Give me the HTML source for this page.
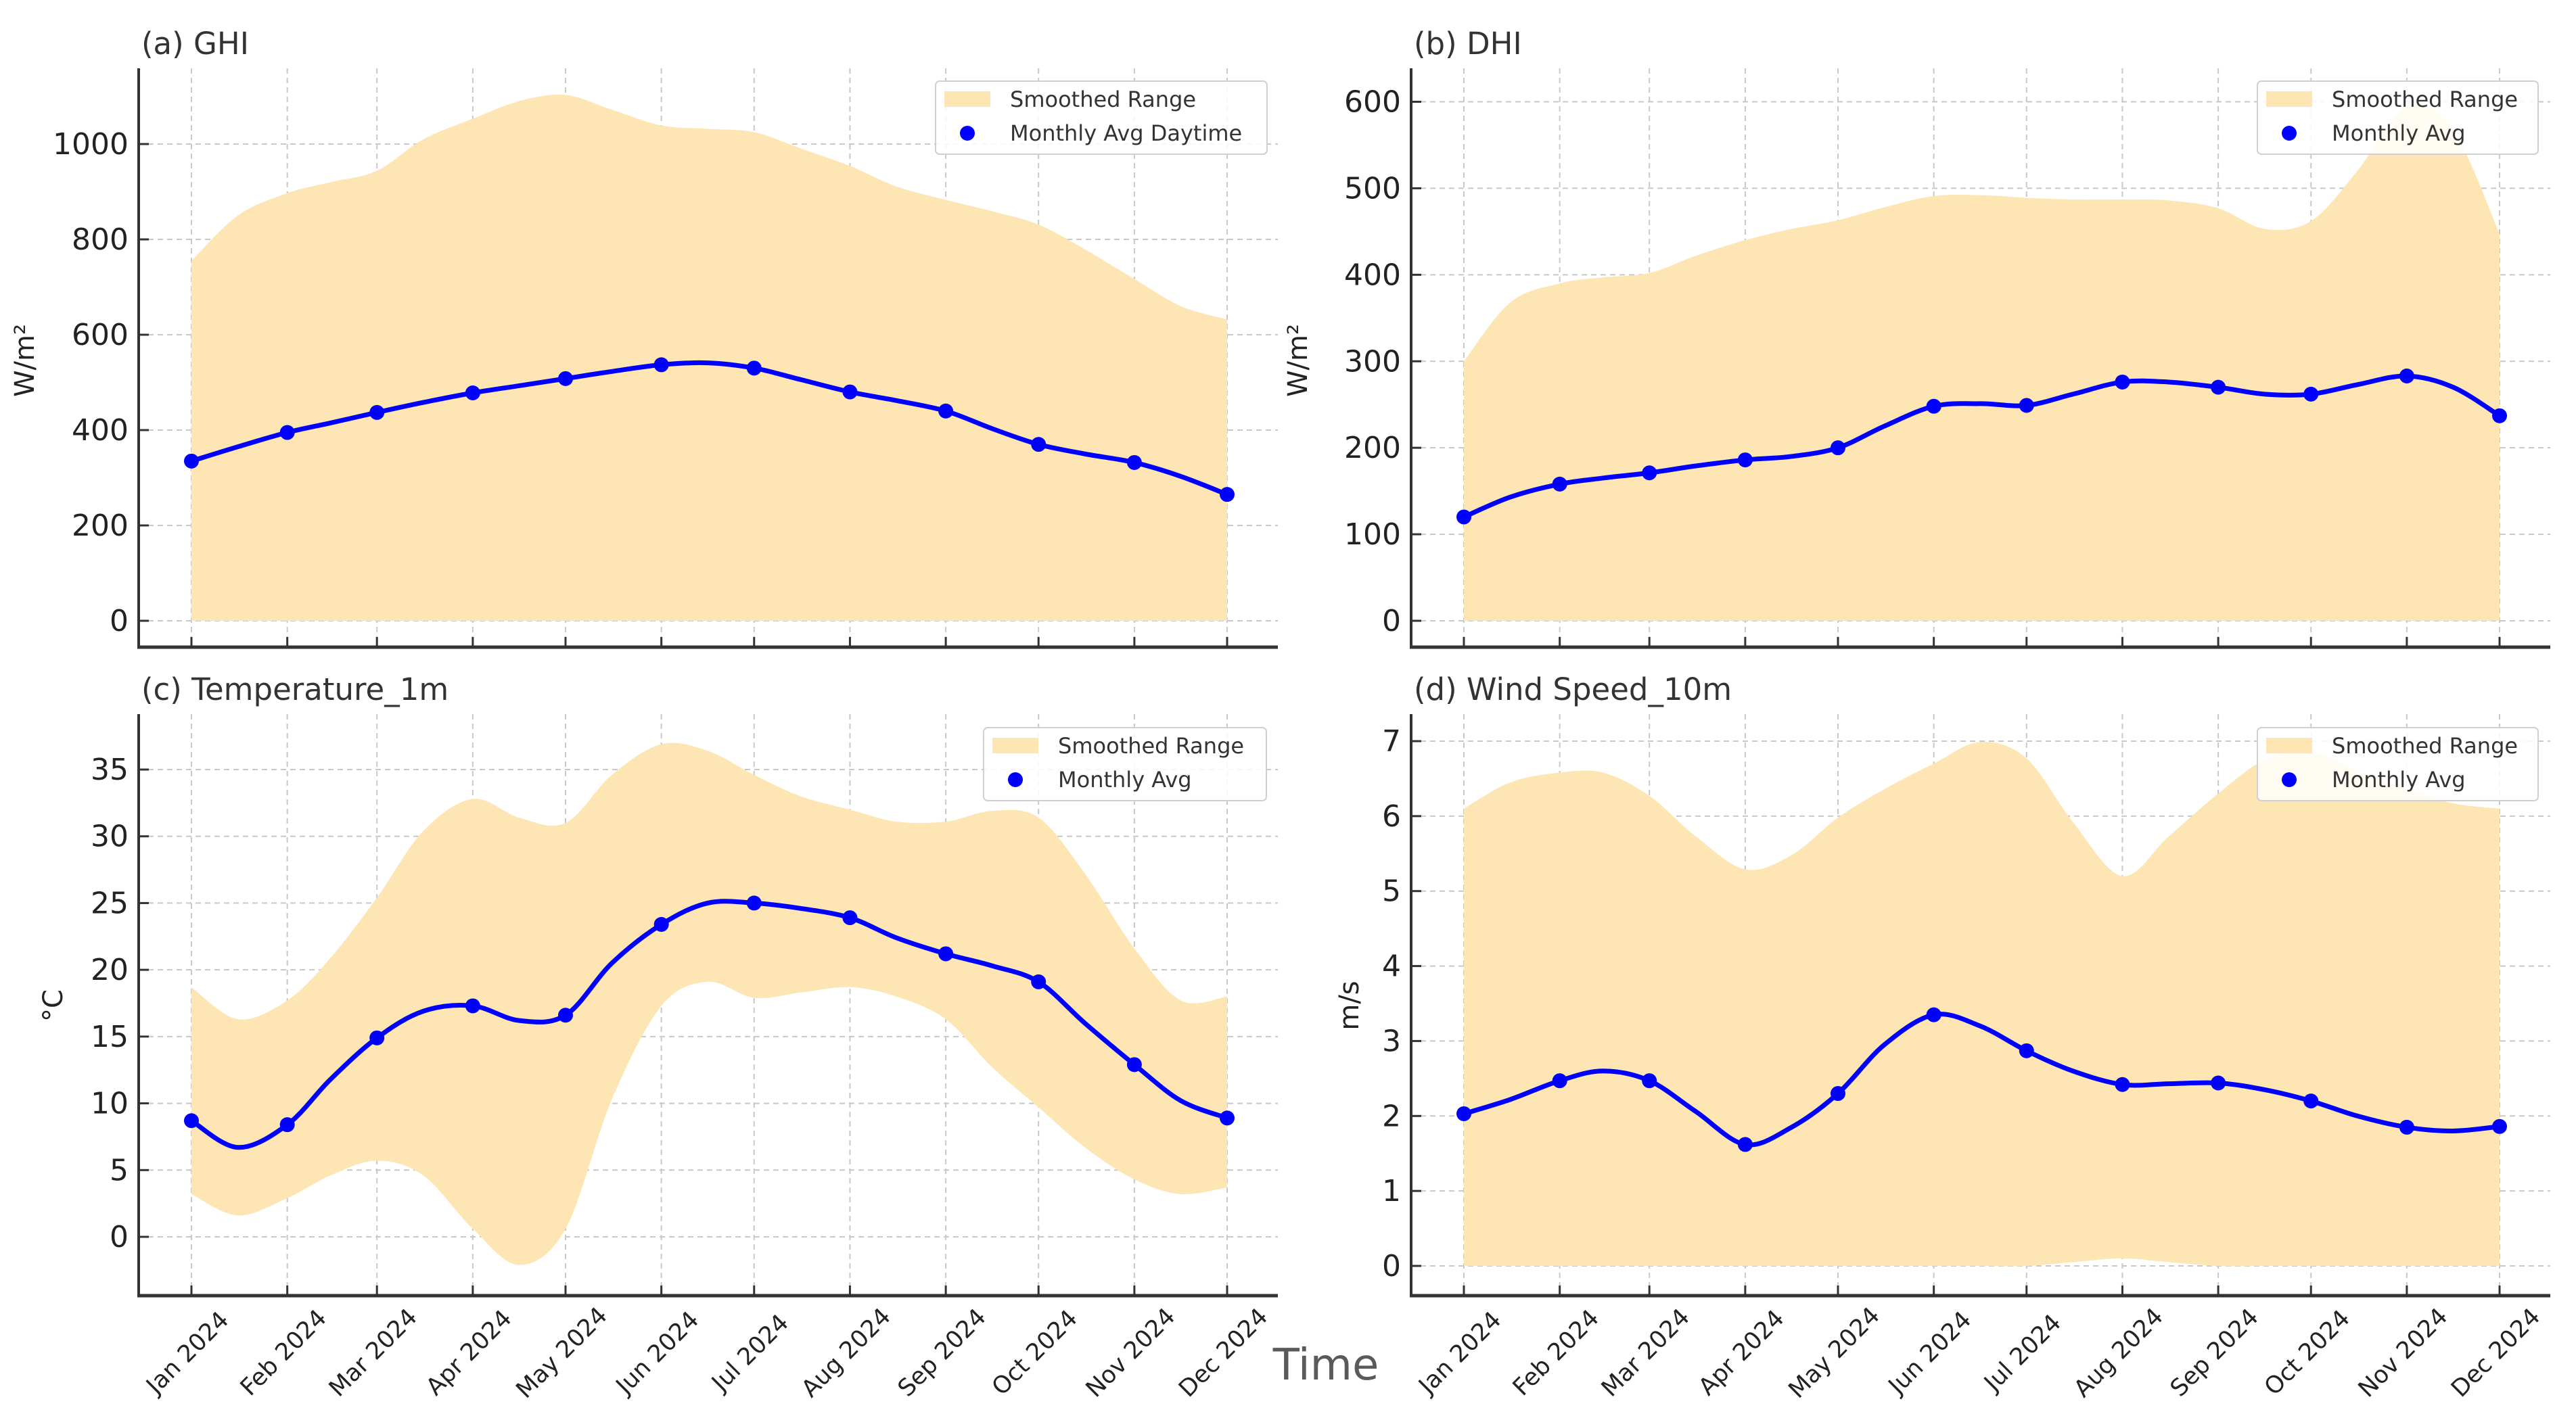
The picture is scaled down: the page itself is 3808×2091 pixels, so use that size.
<!DOCTYPE html>
<html><head><meta charset="utf-8"><title>Smoothed ranges and monthly averages, 2024</title>
<style>
html,body{margin:0;padding:0;background:#fff;}
svg{display:block;font-family:"DejaVu Sans","Liberation Sans",sans-serif;}
</style></head>
<body>
<svg id="fig" xmlns="http://www.w3.org/2000/svg" width="3808" height="2091" viewBox="0 0 3808 2091">
<rect width="3808" height="2091" fill="#fff"/>
<text x="1960" y="2040" font-size="64" fill="#5a5a5a" text-anchor="middle">Time</text>
</svg>
<script>
const monthLabels=["Jan 2024","Feb 2024","Mar 2024","Apr 2024","May 2024","Jun 2024","Jul 2024","Aug 2024","Sep 2024","Oct 2024","Nov 2024","Dec 2024"];
const monthDays=[0,31,60,91,121,152,182,213,244,274,305,335];
const halfDays=[0,15,31,45,60,75,91,106,121,136,152,167,182,197,213,228,244,259,274,289,305,320,335];

const ghiAvg=[335,395,437,478,508,537,530,480,440,370,332,265];
const ghiLine=[335,365,395,415,437,458,478,493,508,523,537,541,530,506,480,462,440,403,370,350,332,303,265];
const ghiUpper=[755,850,897,920,944,1010,1053,1090,1103,1072,1039,1032,1025,991,954,911,883,859,831,779,717,660,632];
const ghiLower=[0,0,0,0,0,0,0,0,0,0,0,0,0,0,0,0,0,0,0,0,0,0,0];
const ghiTicks=[0,200,400,600,800,1000];

const dhiAvg=[120,158,171,186,200,248,249,276,270,262,283,237];
const dhiLine=[120,143,158,165,171,179,186,190,200,225,248,251,249,262,276,276,270,262,262,273,283,270,237];
const dhiUpper=[300,368,390,397,402,422,440,453,463,478,491,492,489,487,487,486,477,453,462,520,595,567,447];
const dhiLower=[0,0,0,0,0,0,0,0,0,0,0,0,0,0,0,0,0,0,0,0,0,0,0];
const dhiTicks=[0,100,200,300,400,500,600];

const tempAvg=[8.7,8.4,14.9,17.3,16.6,23.4,25.0,23.9,21.2,19.1,12.9,8.9];
const tempLine=[8.7,6.7,8.4,11.8,14.9,16.9,17.3,16.2,16.6,20.5,23.4,25.0,25.0,24.6,23.9,22.4,21.2,20.3,19.1,16.0,12.9,10.2,8.9];
const tempUpper=[18.7,16.3,17.7,20.9,25.4,30.4,32.8,31.4,31.0,34.6,36.9,36.4,34.6,33.0,32.0,31.1,31.1,31.9,31.4,27.2,21.6,17.7,18.0];
const tempLower=[3.2,1.6,2.9,4.6,5.7,4.6,0.6,-2.1,0.6,10.3,17.3,19.1,17.9,18.3,18.7,18.0,16.3,12.7,9.7,6.7,4.3,3.2,3.7];
const tempTicks=[0,5,10,15,20,25,30,35];

const windAvg=[2.03,2.47,2.47,1.62,2.3,3.35,2.87,2.42,2.44,2.2,1.85,1.86];
const windLine=[2.03,2.22,2.47,2.6,2.47,2.06,1.62,1.85,2.3,2.95,3.35,3.2,2.87,2.6,2.42,2.43,2.44,2.35,2.2,2.0,1.85,1.8,1.86];
const windUpper=[6.1,6.45,6.58,6.58,6.27,5.73,5.29,5.48,5.98,6.36,6.7,6.99,6.77,5.92,5.2,5.73,6.3,6.75,6.86,6.6,6.36,6.17,6.1];
const windLower=[0,0,0,0,0,0,0,0,0,0,0,0,0,0.05,0.1,0.05,0,0,0,0,0,0,0];
const windTicks=[0,1,2,3,4,5,6,7];

const NS="http://www.w3.org/2000/svg";
const fig=document.getElementById('fig');
function mk(tag,attrs,parent){const e=document.createElementNS(NS,tag);for(const k in attrs)e.setAttribute(k,attrs[k]);(parent||fig).appendChild(e);return e;}
function smooth(pts,move){let d=move?`M${pts[0][0]},${pts[0][1]}`:`L${pts[0][0]},${pts[0][1]}`;
  for(let i=0;i<pts.length-1;i++){const p0=pts[Math.max(0,i-1)],p1=pts[i],p2=pts[i+1],p3=pts[Math.min(pts.length-1,i+2)];
    d+=` C${p1[0]+(p2[0]-p0[0])/6},${p1[1]+(p2[1]-p0[1])/6} ${p2[0]-(p3[0]-p1[0])/6},${p2[1]-(p3[1]-p1[1])/6} ${p2[0]},${p2[1]}`;}
  return d;}

function panel(cfg){
  const g=mk('g',{});
  
  
  const xs=d=>cfg.xJan+d*(cfg.xDec-cfg.xJan)/335;
  const ys=v=>cfg.y0+(v-cfg.v0)*(cfg.y1-cfg.y0)/(cfg.v1-cfg.v0);
  cfg.ticks.forEach(t=>{const l=mk('line',{x1:cfg.L,x2:cfg.R,y1:ys(t),y2:ys(t),stroke:'#c8c8c8','stroke-width':2,'stroke-dasharray':'8,6'},g);
    });
  monthDays.forEach(d=>{const l=mk('line',{x1:xs(d),x2:xs(d),y1:cfg.T,y2:cfg.B,stroke:'#c8c8c8','stroke-width':2,'stroke-dasharray':'8,6'},g);
    });
  const up=halfDays.map((d,i)=>[xs(d),ys(cfg.upper[i])]);
  const lo=halfDays.map((d,i)=>[xs(d),ys(cfg.lower[i])]).reverse();
  const band=mk('path',{d:smooth(up,true)+' '+smooth(lo,false)+' Z',fill:'#fde6b3',stroke:'none'},g);
  
  const ln=mk('path',{d:smooth(halfDays.map((d,i)=>[xs(d),ys(cfg.line[i])]),true),fill:'none',stroke:'#0000ff','stroke-width':7,'stroke-linejoin':'round'},g);
  
  cfg.avg.forEach((v,i)=>{const c=mk('circle',{cx:xs(monthDays[i]),cy:ys(v),r:11,fill:'#0000ff'},g);
    });
  const sl=mk('line',{x1:cfg.L,x2:cfg.L,y1:cfg.T,y2:cfg.B+2,stroke:'#333','stroke-width':4},g);
  
  const sb=mk('line',{x1:cfg.L-2,x2:cfg.R,y1:cfg.B,y2:cfg.B,stroke:'#333','stroke-width':5},g);
  
  cfg.ticks.forEach(t=>{mk('line',{x1:cfg.L,x2:cfg.L+15,y1:ys(t),y2:ys(t),stroke:'#333','stroke-width':3},g);
    const tx=mk('text',{x:cfg.L-15,y:ys(t)+15,'font-size':44,fill:'#222','text-anchor':'end'},g);tx.textContent=t;
    });
  monthDays.forEach((d,i)=>{mk('line',{x1:xs(d),x2:xs(d),y1:cfg.B,y2:cfg.B-15,stroke:'#333','stroke-width':3},g);
    if(cfg.labels){const cx=xs(d)-6,cy=cfg.B+84;
      const tx=mk('text',{x:cx,y:cy+12,'font-size':35,fill:'#222','text-anchor':'middle',transform:`rotate(-45 ${cx} ${cy})`},g);tx.textContent=monthLabels[i];
      }});
  const ti=mk('text',{x:cfg.L+4,y:cfg.T-21,'font-size':45,fill:'#333'},g);ti.textContent=cfg.title;
  
  const yl=mk('text',{x:cfg.ylx,y:cfg.yly,'font-size':40,fill:'#222','text-anchor':'middle',transform:`rotate(-90 ${cfg.ylx} ${cfg.yly})`},g);yl.textContent=cfg.ylab;
  
  const lx=cfg.lgx,ly=cfg.lgy;
  const lg=mk('g',{},g);
  mk('rect',{x:lx,y:ly,width:cfg.lgw,height:108,rx:6,fill:'#fff','fill-opacity':0.85,stroke:'#d0d0d0','stroke-width':2},lg);
  const s1=mk('rect',{x:lx+13,y:ly+15,width:68,height:23,fill:'#fde6b3'},lg);
  
  const s2=mk('circle',{cx:lx+47,cy:ly+77,r:11,fill:'#0000ff'},lg);
  
  const t1=mk('text',{x:lx+110,y:ly+38,'font-size':32,fill:'#333'},lg);t1.textContent='Smoothed Range';
  
  const t2=mk('text',{x:lx+110,y:ly+88,'font-size':32,fill:'#333'},lg);t2.textContent=cfg.avgLabel;
  
}

panel({name:'panel-ghi',title:'(a) GHI',ylab:'W/m²',L:205,R:1889,T:101,B:957,xJan:283,xDec:1814,y0:918,v0:0,y1:213,v1:1000,
  ticks:ghiTicks,avg:ghiAvg,line:ghiLine,upper:ghiUpper,lower:ghiLower,labels:false,ylx:50,yly:533,lgx:1383,lgy:120,lgw:490,avgLabel:'Monthly Avg Daytime'});
panel({name:'panel-dhi',title:'(b) DHI',ylab:'W/m²',L:2086,R:3770,T:101,B:957,xJan:2164,xDec:3695,y0:918,v0:0,y1:150.5,v1:600,
  ticks:dhiTicks,avg:dhiAvg,line:dhiLine,upper:dhiUpper,lower:dhiLower,labels:false,ylx:1932,yly:533,lgx:3337,lgy:120,lgw:415,avgLabel:'Monthly Avg'});
panel({name:'panel-temperature',title:'(c) Temperature_1m',ylab:'°C',L:205,R:1889,T:1056,B:1916,xJan:283,xDec:1814,y0:1829,v0:0,y1:1138,v1:35,
  ticks:tempTicks,avg:tempAvg,line:tempLine,upper:tempUpper,lower:tempLower,labels:true,ylx:92,yly:1487,lgx:1454,lgy:1076,lgw:418,avgLabel:'Monthly Avg'});
panel({name:'panel-wind-speed',title:'(d) Wind Speed_10m',ylab:'m/s',L:2086,R:3770,T:1056,B:1916,xJan:2164,xDec:3695,y0:1872,v0:0,y1:1096,v1:7,
  ticks:windTicks,avg:windAvg,line:windLine,upper:windUpper,lower:windLower,labels:true,ylx:2008,yly:1487,lgx:3337,lgy:1076,lgw:415,avgLabel:'Monthly Avg'});
</script>
</body></html>
